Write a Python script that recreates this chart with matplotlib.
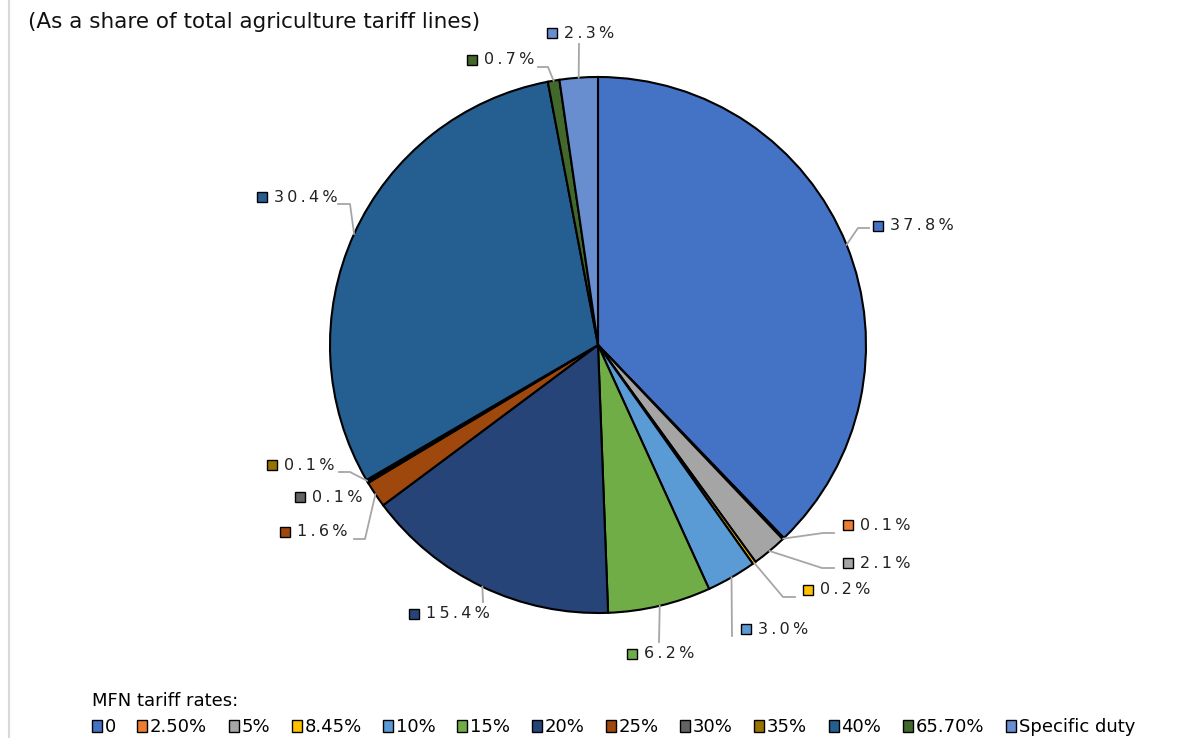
import matplotlib.pyplot as plt
from matplotlib.patches import Patch
import numpy as np

# MFN tariff rates, share of agriculture tariff lines (%)
categories = ["0", "2.50%", "5%", "8.45%", "10%", "15%", "20%", "25%",
              "30%", "35%", "40%", "65.70%", "Specific duty"]
shares = [37.8, 0.1, 2.1, 0.2, 3.0, 6.2, 15.4, 1.6, 0.1, 0.1, 30.4, 0.7, 2.3]
colors = ["#4472C4", "#ED7D31", "#A5A5A5", "#FFC000", "#5B9BD5", "#70AD47",
          "#264478", "#9E480E", "#636363", "#997300", "#255E91", "#43682B",
          "#698ED0"]

W, H = 1198, 738
CX, CY, R = 598, 345, 268

# label layout (pixel coords, y down): marker centre of each data label
label_xy = [(878, 226), (848, 525), (848, 563), (808, 590), (746, 629),
            (632, 654), (414, 614), (285, 532), (300, 497), (272, 465),
            (262, 197), (472, 60), (552, 33)]
# leader points after the wedge edge point (None = no leader)
leaders = [[(858, 228), (869, 228)],
           [(823, 533), (834, 533)],
           [(822, 568), (834, 568)],
           [(783, 597), (795, 597)],
           [(732, 636)],
           [(659, 642)],
           [(483, 602)],
           [(365, 539), (354, 539)],
           None,
           [(350, 472), (339, 472)],
           [(350, 204), (338, 204)],
           [(548, 67), (538, 67)],
           [(579, 44)]]

fig = plt.figure(figsize=(W / 100, H / 100), dpi=100)
ax = fig.add_axes([0, 0, 1, 1])

wedges, _ = ax.pie(shares, colors=colors, center=(CX, CY), radius=R,
                   startangle=-90, counterclock=True,
                   wedgeprops=dict(edgecolor="black", linewidth=1.5))
ax.set_xlim(0, W)
ax.set_ylim(H, 0)
ax.set_aspect("equal")
ax.axis("off")

for w, val, col, (lx, ly), path in zip(wedges, shares, colors, label_xy, leaders):
    mid = np.deg2rad((w.theta1 + w.theta2) / 2)
    ex, ey = CX + R * np.cos(mid), CY + R * np.sin(mid)
    if path is not None:
        xs = [ex] + [p[0] for p in path]
        ys = [ey] + [p[1] for p in path]
        ax.plot(xs, ys, color="#A6A6A6", lw=1.3, zorder=1)
    ax.plot(lx, ly, marker="s", ms=6.5, mfc=col, mec="black", mew=1.0, zorder=3)
    txt = "\u2009".join(f"{val:.1f}%")
    ax.text(lx + 12, ly, txt, ha="left", va="center", fontsize=11.5, color="#222222")

ax.text(28, 22, "(As a share of total agriculture tariff lines)", ha="left",
        va="center", fontsize=15.5, color="#111111")

# thin grey rule at the left edge
ax.plot([9, 9], [0, H], color="#D9D9D9", lw=1.5)

handles = [Patch(facecolor=c, edgecolor="black", linewidth=1.0) for c in colors]
leg = fig.legend(handles, categories, loc="lower left",
                 bbox_to_anchor=(81 / W, -9 / H), ncol=len(categories),
                 frameon=False, fontsize=13, handlelength=0.55, handleheight=0.6,
                 handletextpad=0.15, columnspacing=1.2, borderpad=0.1,
                 labelspacing=0.45,
                 title="MFN tariff rates:", title_fontsize=13, alignment="left")

fig.savefig("out.png", dpi=100)
